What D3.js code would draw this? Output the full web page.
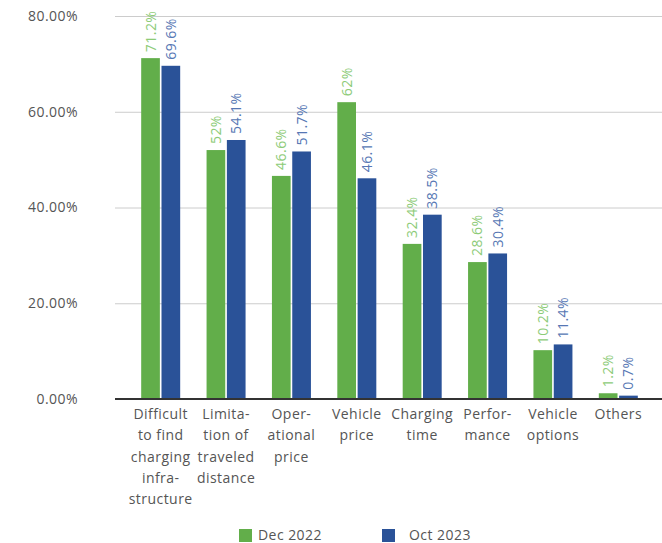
<!DOCTYPE html>
<html>
<head>
<meta charset="utf-8">
<script src="https://cdn.jsdelivr.net/npm/d3@7"></script>
<style>
  html, body { margin: 0; padding: 0; background: #fff; }
  svg { display: block; font-family: "Open Sans", "Noto Sans", sans-serif; letter-spacing: 0.45px; }
</style>
</head>
<body>
<svg id="chart" width="662" height="543"></svg>
<script>
// Reasons cited for not buying an electric vehicle (share of respondents, %)
const categories = [
  ["Difficult", "to find", "charging", "infra-", "structure"],
  ["Limita-", "tion of", "traveled", "distance"],
  ["Oper-", "ational", "price"],
  ["Vehicle", "price"],
  ["Charging", "time"],
  ["Perfor-", "mance"],
  ["Vehicle", "options"],
  ["Others"]
];
const seriesNames = ["Dec 2022", "Oct 2023"];
const dec2022 = [71.2, 52, 46.6, 62, 32.4, 28.6, 10.2, 1.2];
const oct2023 = [69.6, 54.1, 51.7, 46.1, 38.5, 30.4, 11.4, 0.7];
const yTicks = [0, 20, 40, 60, 80];

const barColors = ["#62ae4a", "#2a5298"];
const labelColors = ["#8dcb78", "#5677b4"];

const svg = d3.select("#chart");
const margin = { left: 115, right: 0, top: 16, bottom: 144 };
const W = 662, H = 543;
const baseY = 399;
const fs = "14px";

const y = d3.scaleLinear().domain([0, 80]).range([baseY, 16]);
const x = d3.scaleBand()
  .domain(d3.range(categories.length))
  .range([128, 651])
  .paddingInner(0)
  .paddingOuter(0);
const xs = d3.scaleBand().domain([0, 1]).range([x.bandwidth() / 2 - 19.5, x.bandwidth() / 2 + 19.5]).paddingInner(0.08);

// gridlines and y-axis labels
const yAxis = d3.axisLeft(y)
  .tickValues(yTicks)
  .tickSize(-(W - margin.left))
  .tickFormat(d => d.toFixed(2) + "%");
const gy = svg.append("g")
  .attr("transform", `translate(${margin.left},0)`)
  .call(yAxis);
gy.select(".domain").remove();
gy.selectAll(".tick line").attr("stroke", "#cccccc").attr("stroke-width", 1);
gy.selectAll(".tick text")
  .attr("x", -37)
  .attr("fill", "#555")
  .style("font-size", fs)
  .style("font-family", "'Open Sans', sans-serif");

// bars
const series = [dec2022, oct2023];
series.forEach((vals, si) => {
  svg.append("g").selectAll("rect")
    .data(vals)
    .join("rect")
    .attr("x", (d, i) => x(i) + xs(si))
    .attr("width", xs.bandwidth())
    .attr("y", d => y(d))
    .attr("height", d => baseY - y(d))
    .attr("fill", barColors[si]);

  svg.append("g").selectAll("text")
    .data(vals)
    .join("text")
    .attr("transform", (d, i) => `translate(${x(i) + xs(si) + xs.bandwidth() / 2 + 5},${y(d) - 6}) rotate(-90)`)
    .attr("fill", labelColors[si])
    .style("font-size", fs)
    .text(d => d + "%");
});

// baseline
svg.append("line")
  .attr("x1", margin.left).attr("x2", W)
  .attr("y1", baseY).attr("y2", baseY)
  .attr("stroke", "#333").attr("stroke-width", 2);

// category labels
const cl = svg.append("g").selectAll("text")
  .data(categories)
  .join("text")
  .attr("text-anchor", "middle")
  .attr("fill", "#555")
  .style("font-size", fs);
cl.each(function (lines, i) {
  const t = d3.select(this);
  lines.forEach((ln, j) => {
    t.append("tspan")
      .attr("x", x(i) + x.bandwidth() / 2)
      .attr("y", 419 + j * 21.3)
      .text(ln);
  });
});

// legend
const legendX = [239, 382];
const legendTextX = [258, 409];
seriesNames.forEach((name, si) => {
  svg.append("rect")
    .attr("x", legendX[si]).attr("y", 529)
    .attr("width", 13).attr("height", 13)
    .attr("fill", barColors[si]);
  svg.append("text")
    .attr("x", legendTextX[si]).attr("y", 540)
    .attr("fill", "#555")
    .style("font-size", fs)
    .text(name);
});
</script>
</body>
</html>
